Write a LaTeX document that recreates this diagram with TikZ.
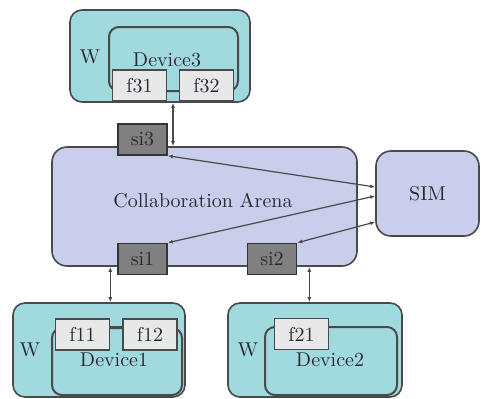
\documentclass[tikz,border=0pt]{standalone}
\usetikzlibrary{arrows.meta,calc}
\definecolor{Wc}{HTML}{A0DADE}
\definecolor{Ac}{HTML}{C8CEEB}
\definecolor{Sc}{HTML}{808080}
\definecolor{Fc}{HTML}{E8E8E8}
\definecolor{edge}{HTML}{4A4A4A}
\definecolor{ink}{HTML}{2A2A35}
\tikzset{
  wbox/.style={rectangle, rounded corners=6pt, draw=edge, fill=Wc, thick, inner sep=0pt},
  devbox/.style={rectangle, rounded corners=5pt, draw=edge, line width=1pt, fill=Wc, inner sep=0pt, text=ink},
  fbox/.style={rectangle, draw=edge, fill=Fc, thick, minimum width=27pt, minimum height=15.5pt, inner sep=0pt, text=ink},
  sibox/.style={rectangle, draw=edge!70!black, fill=Sc, thick, minimum width=24.5pt, minimum height=15.5pt, inner sep=0pt, text=ink},
  arenabox/.style={rectangle, rounded corners=7.5pt, draw=edge, fill=Ac, thick, inner sep=0pt, text=ink},
  wlbl/.style={text=ink, inner sep=0pt},
  link/.style={{Latex[length=2.5pt,width=2pt]}-{Latex[length=2.5pt,width=2pt]}, draw=edge, semithick},
}

\begin{document}
\begin{tikzpicture}[x=0.5pt, y=-0.5pt, font=\fontsize{10}{12}\selectfont]
  \useasboundingbox[fill=white] (0,0) rectangle (488,398);
  % device 3 on top
  \node[wbox, minimum width=90pt, minimum height=46pt] (w3) at (160,56) {};
  \node[devbox, minimum width=64.5pt, minimum height=32pt] (dev3) at (173.5,59) {};
  \node[text=ink] (dev3lbl) at (167,60) {Device3};
  \node[fbox] (f31) at (139.5,85.5) {f31};
  \node[fbox] (f32) at (206.5,85.5) {f32};
  \node[wlbl] (w3lbl) at (90,57) {W};
  \draw[edge, semithick] ([yshift=-2.75pt]f31.east) -- ([yshift=-2.75pt]f32.west);
  % arena and sim
  \node[arenabox, minimum width=152.5pt, minimum height=59.5pt] (arena) at (204.5,206.5) {};
  \node[text=ink] (arenalbl) at (203,201) {Collaboration Arena};
  \node[arenabox, minimum width=51.5pt, minimum height=42.5pt] (sim) at (427.5,193.5) {SIM};
  \node[sibox] (si3) at (142.5,139.5) {si3};
  \node[sibox] (si1) at (142.5,259) {si1};
  \node[sibox] (si2) at (272,259) {si2};
  % device 1 and device 2
  \node[wbox, minimum width=86pt, minimum height=47pt] (w1) at (99,350) {};
  \node[devbox, minimum width=65pt, minimum height=33.5pt] (dev1) at (117,361.5) {};
  \node[text=ink] (dev1lbl) at (114,360) {Device1};
  \node[fbox] (f11) at (82.5,334.5) {f11};
  \node[fbox] (f12) at (150,334.5) {f12};
  \node[wlbl] (w1lbl) at (30,350) {W};
  \draw[edge, semithick] ([yshift=3.75pt]f11.east) -- ([yshift=3.75pt]f12.west);
  \node[wbox, minimum width=87pt, minimum height=47pt] (w2) at (315,350) {};
  \node[devbox, minimum width=66pt, minimum height=34pt] (dev2) at (331,361) {};
  \node[text=ink] (dev2lbl) at (330,360) {Device2};
  \node[fbox] (f21) at (301.5,334) {f21};
  \node[wlbl] (w2lbl) at (248,350) {W};
  % links
  \coordinate (m3) at ($(f31.east)!.5!(f32.west)$);
  \coordinate (m2) at ([xshift=6pt]si2.south east);
  \draw[link] (w3.south -| m3) -- (arena.north -| m3);
  \draw[link] (arena.south -| f11.east) -- (w1.north -| f11.east);
  \draw[link] (arena.south -| m2) -- (w2.north -| m2);
  \draw[link] (si3.south east) -- ([yshift=3.25pt]sim.west);
  \draw[link] (si1.north east) -- ([yshift=-1.25pt]sim.west);
  \draw[link] (si2.north east) -- ([yshift=-14.25pt]sim.west);
\end{tikzpicture}
\end{document}
